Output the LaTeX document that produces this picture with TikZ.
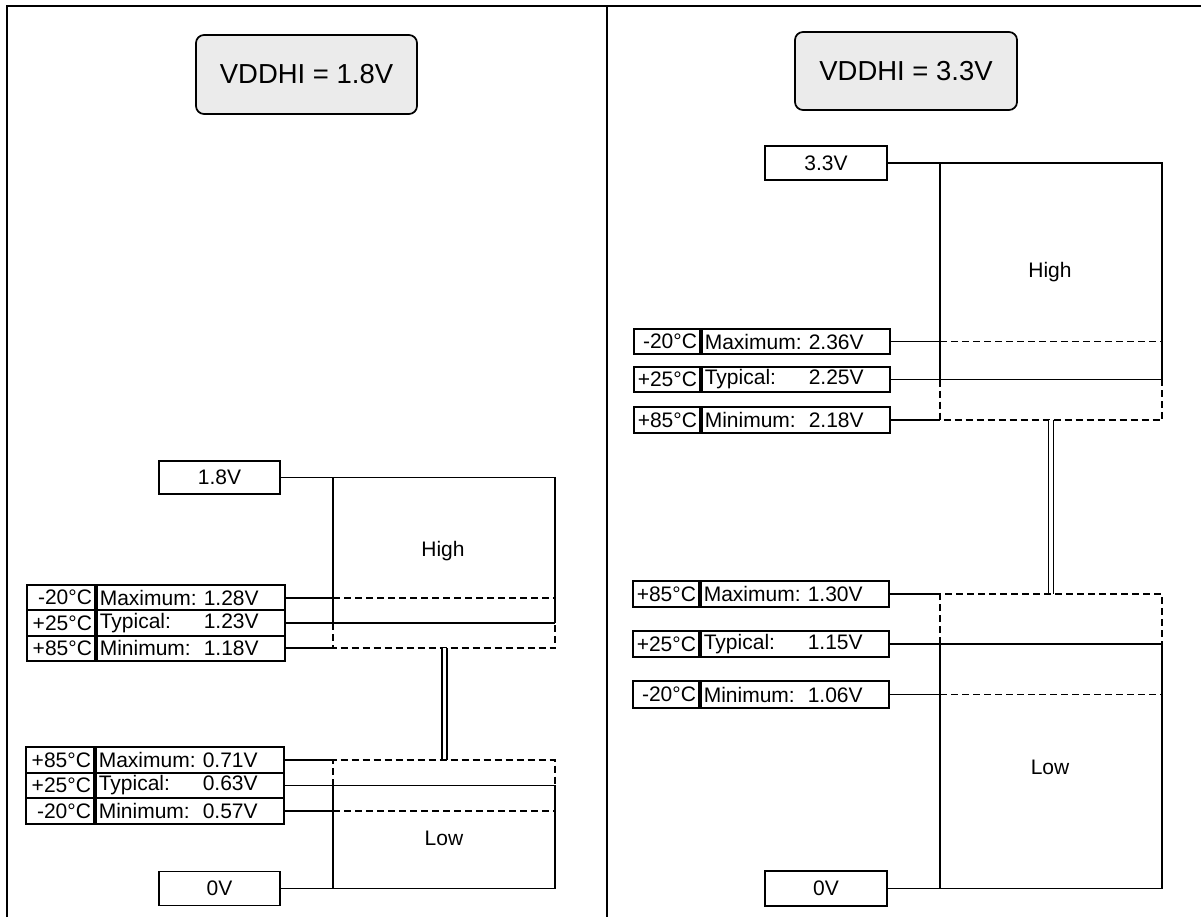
\documentclass[tikz,border=0pt]{standalone}
\usepackage{fontspec}
\setmainfont{Liberation Sans}
\newlength\pxu
\setlength\pxu{0.75pt}
\newcommand\lblfont{\fontsize{15.75}{18}\selectfont}
\newcommand\ttlfont{\fontsize{20.6}{24}\selectfont}
\newcommand\vtxt[2]{\makebox[104\pxu][l]{#1}#2}
\begin{document}
\begin{tikzpicture}[x=0.75pt,y=-0.75pt,
  frameline/.style={line width=1.6pt},
  titlebox/.style={draw, line width=1.3pt, fill=black!8, rounded corners=6pt,
    minimum width=221\pxu, minimum height=79\pxu, inner sep=0pt, font=\ttlfont},
  valbox/.style={draw, line width=1.4pt, minimum width=121\pxu, minimum height=33\pxu,
    inner sep=0pt, font=\lblfont},
  cellbase/.style={draw, line width=1.4pt, inner ysep=0pt, minimum height=25.3\pxu,
    font=\lblfont, anchor=west},
  tcell/.style={cellbase, text width=62\pxu, align=right, inner xsep=3\pxu},
  tcellr/.style={cellbase, text width=60\pxu, align=right, inner xsep=3\pxu},
  vcell/.style={cellbase, text width=182\pxu, align=left, inner xsep=3\pxu},
  conn/.style={line width=1.3pt},
  dsh/.style={line width=1.3pt, dash pattern=on 7\pxu off 4\pxu},
  dbl/.style={line width=1.1pt, double, double distance=3.5\pxu},
  plain/.style={font=\lblfont, inner sep=0pt}
]
\useasboundingbox (0,0) rectangle (1201,917);
% frame
\draw[frameline] (7,917) -- (7,6) -- (1201,6);
\draw[frameline] (607,6) -- (607,917);

% ================= LEFT PANEL =================
\node[titlebox] (t1) at (306.5,74.5) {VDDHI = 1.8V};
\node[valbox] (v18) at (219.5,477.5) {1.8V};
\node[valbox, minimum height=34\pxu] (v0l) at (219.5,888.5) {0V};

% high table
\node[tcell] (lh1t) at (26,597.7) {-20°C};
\node[vcell] (lh1v) at (lh1t.east) {\vtxt{Maximum:}{1.28V}};
\node[tcell] (lh2t) at (26,623) {+25°C};
\node[vcell] (lh2v) at (lh2t.east) {\vtxt{Typical:}{1.23V}};
\node[tcell] (lh3t) at (26,648.3) {+85°C};
\node[vcell] (lh3v) at (lh3t.east) {\vtxt{Minimum:}{1.18V}};
% low table
\node[tcell] (ll1t) at (25,760) {+85°C};
\node[vcell] (ll1v) at (ll1t.east) {\vtxt{Maximum:}{0.71V}};
\node[tcell] (ll2t) at (25,785.5) {+25°C};
\node[vcell] (ll2v) at (ll2t.east) {\vtxt{Typical:}{0.63V}};
\node[tcell] (ll3t) at (25,811) {-20°C};
\node[vcell] (ll3v) at (ll3t.east) {\vtxt{Minimum:}{0.57V}};

\node[plain] (hiL) at (443,551) {High};
\node[plain] (loL) at (444,838) {Low};

\coordinate (LL) at (333,0);
\coordinate (LR) at (555,0);
\coordinate (LM) at (444.5,0);

% high block
\draw[conn] (v18.east) -- (v18.east -| LR) -- (lh2v.east -| LR);
\draw[conn] (v18.east -| LL) -- (lh2v.east -| LL);
\draw[dsh] (lh2v.east -| LL) -- (lh3v.east -| LL) -- (lh3v.east -| LR) -- (lh2v.east -| LR);
\draw[conn] (lh1v.east) -- (lh1v.east -| LL);
\draw[dsh] (lh1v.east -| LL) -- (lh1v.east -| LR);
\draw[conn] (lh2v.east) -- (lh2v.east -| LR);
\draw[conn] (lh3v.east) -- (lh3v.east -| LL);
% link
\draw[dbl] (lh3v.east -| LM) -- (ll1v.east -| LM);
% low block
\draw[conn] (ll1v.east) -- (ll1v.east -| LL);
\draw[dsh] (ll2v.east -| LL) -- (ll1v.east -| LL) -- (ll1v.east -| LR) -- (ll2v.east -| LR);
\draw[conn] (ll2v.east) -- (ll2v.east -| LR) -- (v0l.east -| LR) -- (v0l.east);
\draw[conn] (ll2v.east -| LL) -- (v0l.east -| LL);
\draw[conn] (ll3v.east) -- (ll3v.east -| LL);
\draw[dsh] (ll3v.east -| LL) -- (ll3v.east -| LR);

% ================= RIGHT PANEL =================
\node[titlebox, minimum width=222\pxu, minimum height=78\pxu] (t2) at (906,71) {VDDHI = 3.3V};
\node[valbox, minimum width=122\pxu, minimum height=34\pxu] (v33) at (826,163) {3.3V};
\node[valbox, minimum width=122\pxu, minimum height=35\pxu] (v0r) at (826,888.5) {0V};

% high tables
\node[tcellr] (rh1t) at (633,341.5) {-20°C};
\node[vcell] (rh1v) at (rh1t.east) {\vtxt{Maximum:}{2.36V}};
\node[tcellr] (rh2t) at (633,379.5) {+25°C};
\node[vcell] (rh2v) at (rh2t.east) {\vtxt{Typical:}{2.25V}};
\node[tcellr] (rh3t) at (633,420) {+85°C};
\node[vcell] (rh3v) at (rh3t.east) {\vtxt{Minimum:}{2.18V}};
% low tables
\node[tcellr, minimum height=26.5\pxu] (rl1t) at (632,594) {+85°C};
\node[vcell, minimum height=26.5\pxu] (rl1v) at (rl1t.east) {\vtxt{Maximum:}{1.30V}};
\node[tcellr, minimum height=26.5\pxu] (rl2t) at (632,644) {+25°C};
\node[vcell, minimum height=26.5\pxu] (rl2v) at (rl2t.east) {\vtxt{Typical:}{1.15V}};
\node[tcellr, minimum height=26.5\pxu] (rl3t) at (632,694.5) {-20°C};
\node[vcell, minimum height=26.5\pxu] (rl3v) at (rl3t.east) {\vtxt{Minimum:}{1.06V}};

\node[plain] (hiR) at (1050,272) {High};
\node[plain] (loR) at (1050,767) {Low};

\coordinate (RL) at (940,0);
\coordinate (RR) at (1162,0);
\coordinate (RM) at (1051,0);

% high block
\draw[conn] (v33.east) -- (v33.east -| RR) -- (rh2v.east -| RR);
\draw[conn] (v33.east -| RL) -- (rh2v.east -| RL);
\draw[dsh] (rh2v.east -| RL) -- (rh3v.east -| RL) -- (rh3v.east -| RR) -- (rh2v.east -| RR);
\draw[conn] (rh1v.east) -- (rh1v.east -| RL);
\draw[dsh] (rh1v.east -| RL) -- (rh1v.east -| RR);
\draw[conn] (rh2v.east) -- (rh2v.east -| RR);
\draw[conn] (rh3v.east) -- (rh3v.east -| RL);
% link
\draw[dbl] (rh3v.east -| RM) -- (rl1v.east -| RM);
% low block
\draw[conn] (rl1v.east) -- (rl1v.east -| RL);
\draw[dsh] (rl2v.east -| RL) -- (rl1v.east -| RL) -- (rl1v.east -| RR) -- (rl2v.east -| RR);
\draw[conn] (rl2v.east) -- (rl2v.east -| RR) -- (v0r.east -| RR) -- (v0r.east);
\draw[conn] (rl2v.east -| RL) -- (v0r.east -| RL);
\draw[conn] (rl3v.east) -- (rl3v.east -| RL);
\draw[dsh] (rl3v.east -| RL) -- (rl3v.east -| RR);
\end{tikzpicture}
\end{document}
